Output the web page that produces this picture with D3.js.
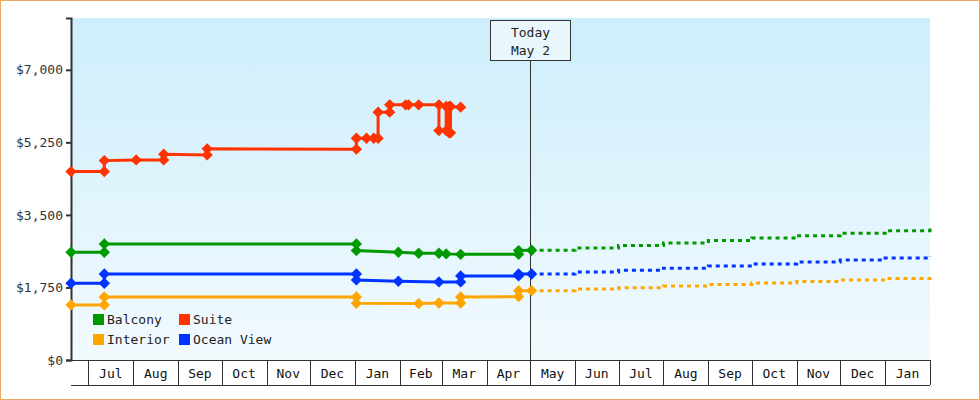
<!DOCTYPE html>
<html><head><meta charset="utf-8">
<script src="https://cdn.jsdelivr.net/npm/d3@7"></script>
<style>
body{margin:0;background:#fff}
svg{display:block;font-family:"DejaVu Sans Mono",monospace}
</style></head>
<body><svg id="chart" width="980" height="400"></svg>
<script>
// price history (date, price) - vertical steps are two points on the same day
const suite = [["2023-06-19",4545],["2023-07-12",4545],["2023-07-12",4810],["2023-08-03",4827],["2023-08-22",4827],["2023-08-22",4965],["2023-09-21",4948],["2023-09-21",5093],["2024-01-02",5085],["2024-01-02",5350],["2024-01-09",5350],["2024-01-14",5350],["2024-01-17",5350],["2024-01-17",5979],["2024-01-25",5979],["2024-01-25",6155],["2024-02-05",6155],["2024-02-07",6155],["2024-02-14",6155],["2024-02-28",6155],["2024-02-28",5535],["2024-03-04",5535],["2024-03-04",6115],["2024-03-06",6115],["2024-03-06",5479],["2024-03-07",5479],["2024-03-07",6115],["2024-03-14",6099]];
const balcony = [["2023-06-19",2600],["2023-07-12",2600],["2023-07-12",2800],["2024-01-02",2800],["2024-01-02",2640],["2024-01-31",2600],["2024-02-14",2575],["2024-02-28",2575],["2024-03-04",2560],["2024-03-14",2550],["2024-04-23",2550],["2024-04-23",2640],["2024-05-02",2648]];
const oceanView = [["2023-06-19",1851],["2023-07-12",1851],["2023-07-12",2075],["2024-01-02",2075],["2024-01-02",1931],["2024-01-31",1900],["2024-02-28",1883],["2024-03-14",1883],["2024-03-14",2028],["2024-04-23",2028],["2024-04-23",2075],["2024-05-02",2075]];
const interior = [["2023-06-19",1328],["2023-07-12",1328],["2023-07-12",1520],["2024-01-02",1520],["2024-01-02",1368],["2024-02-14",1360],["2024-02-28",1375],["2024-03-14",1375],["2024-03-14",1520],["2024-04-23",1530],["2024-04-23",1673],["2024-05-02",1673]];
// forecast (dashed)
const forecastDates = ["2024-05-02","2024-06-01","2024-07-01","2024-08-01","2024-09-01","2024-10-01","2024-11-01","2024-12-01","2025-01-01","2025-02-01"];
const balconyForecast = [2648,2700,2760,2820,2880,2940,3000,3060,3120,3186];
const oceanForecast = [2075,2120,2165,2215,2265,2315,2365,2410,2460,2510];
const interiorForecast = [1673,1710,1745,1785,1820,1855,1895,1930,1965,2003];
const yTicks = [0,1750,3500,5250,7000];
const today = "2024-05-02";

const parse = d3.timeParse("%Y-%m-%d");
const svg = d3.select("#chart");
const L = 71, R = 930, T = 18, B = 360;

svg.append("rect").attr("x",0.5).attr("y",0.5).attr("width",979).attr("height",399)
  .attr("fill","#fff").attr("stroke","#e8a862");

const grad = svg.append("defs").append("linearGradient").attr("id","bg")
  .attr("x1",0).attr("y1",0).attr("x2",0).attr("y2",1);
grad.append("stop").attr("offset","0%").attr("stop-color","#cdeefb");
grad.append("stop").attr("offset","100%").attr("stop-color","#f2fafe");
svg.append("rect").attr("x",L).attr("y",T).attr("width",R-L).attr("height",B-T).attr("fill","url(#bg)");

const x = d3.scaleTime().domain([parse("2023-06-19"), parse("2025-02-01")]).range([L, R]);
const y = d3.scaleLinear().domain([0, 8250]).range([B, T]);

// y axis
const ya = svg.append("g").attr("transform",`translate(${L},0)`)
  .call(d3.axisLeft(y).tickValues(yTicks).tickSize(5).tickFormat(d => "$" + d3.format(",")(d)));
ya.select(".domain").attr("stroke","#333").attr("stroke-width",2);
ya.selectAll(".tick line").attr("stroke","#333").attr("stroke-width",2);
ya.selectAll("text").attr("font-size",13).attr("fill","#333").attr("font-family","DejaVu Sans Mono");

// month boxes
const months = d3.timeMonth.range(parse("2023-07-01"), parse("2025-02-01"));
const ax = svg.append("g");
ax.append("line").attr("x1",L).attr("x2",R).attr("y1",B+0.5).attr("y2",B+0.5).attr("stroke","#333");
ax.append("line").attr("x1",L).attr("x2",R).attr("y1",385.5).attr("y2",385.5).attr("stroke","#333");
months.concat([parse("2025-02-01")]).forEach(m => {
  const px = Math.round(x(m)) + 0.5;
  ax.append("line").attr("x1",px).attr("x2",px).attr("y1",B).attr("y2",385).attr("stroke","#333");
});
months.forEach(m => {
  ax.append("text").attr("x",(x(m)+x(d3.timeMonth.offset(m,1)))/2).attr("y",378)
    .attr("text-anchor","middle").attr("font-size",13).attr("fill","#111")
    .text(d3.timeFormat("%b")(m));
});

// today marker
const tx = Math.round(x(parse(today))) - 1.5;
svg.append("line").attr("x1",tx).attr("x2",tx).attr("y1",60).attr("y2",B).attr("stroke","#333");
svg.append("rect").attr("x",tx-40).attr("y",20.5).attr("width",80).attr("height",40)
  .attr("fill","#e9f7fd").attr("stroke","#333");
svg.append("text").attr("x",tx).attr("y",37).attr("text-anchor","middle").attr("font-size",13).attr("fill","#222").text("Today");
svg.append("text").attr("x",tx).attr("y",55).attr("text-anchor","middle").attr("font-size",13).attr("fill","#222").text("May 2");

const line = d3.line().x(d => x(parse(d[0]))).y(d => y(d[1]));
const series = [
  {data: interior, fc: interiorForecast, color: "#ffa500"},
  {data: oceanView, fc: oceanForecast, color: "#0033ff"},
  {data: balcony, fc: balconyForecast, color: "#009900"},
  {data: suite, fc: null, color: "#ff3300"}
];
series.forEach(s => {
  if (s.fc) {
    svg.append("path").datum(forecastDates.map((d,i) => [d, s.fc[i]]))
      .attr("d", d3.line().curve(d3.curveStepAfter).x(d => x(parse(d[0]))).y(d => y(d[1])))
      .attr("fill","none").attr("stroke",s.color).attr("stroke-width",3).attr("stroke-dasharray","4,4");
  }
  svg.append("path").datum(s.data).attr("d", line)
    .attr("fill","none").attr("stroke",s.color).attr("stroke-width",3);
  svg.append("g").selectAll("path").data(s.data).join("path")
    .attr("transform", d => `translate(${x(parse(d[0]))},${y(d[1])}) rotate(45)`)
    .attr("d", d3.symbol().type(d3.symbolSquare).size(64))
    .attr("fill", s.color);
});

// legend
const legend = [["Balcony","#009900",93,314],["Suite","#ff3300",179,314],["Interior","#ffa500",93,334],["Ocean View","#0033ff",179,334]];
legend.forEach(([name,c,lx,ly]) => {
  svg.append("rect").attr("x",lx).attr("y",ly).attr("width",11).attr("height",11).attr("fill",c);
  svg.append("text").attr("x",lx+14).attr("y",ly+10).attr("font-size",13).attr("fill","#222").text(name);
});
</script></body></html>
